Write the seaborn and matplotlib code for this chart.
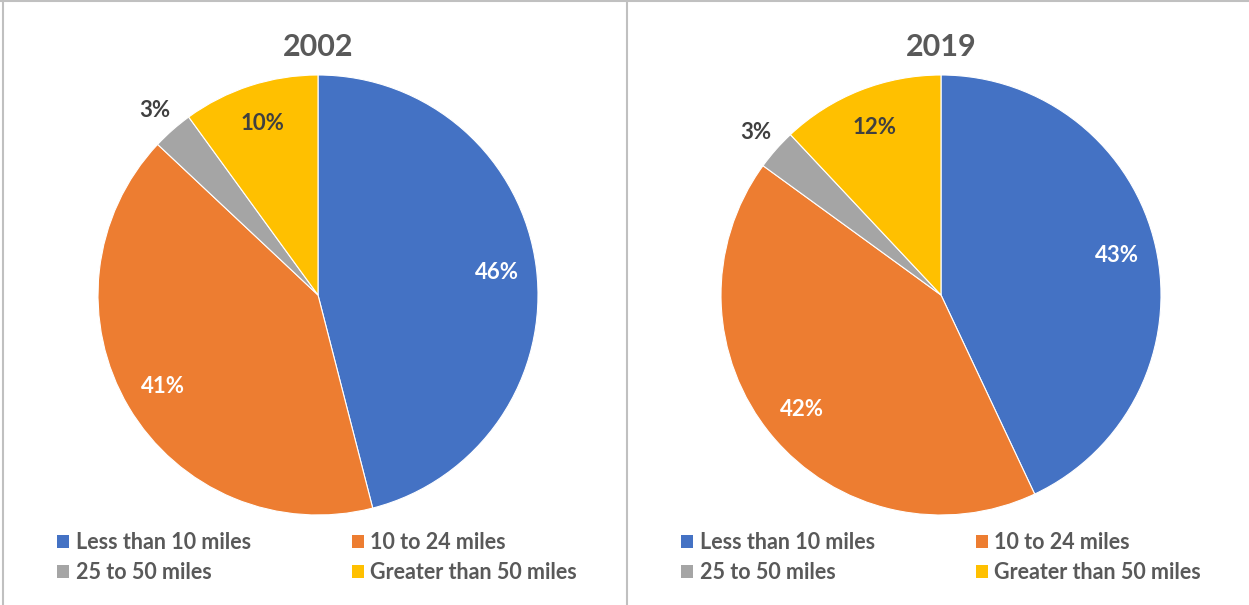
import matplotlib
matplotlib.use("Agg")
import matplotlib.pyplot as plt
from matplotlib.lines import Line2D
from matplotlib.patches import Patch
import numpy as np
import seaborn as sns

categories = ["Less than 10 miles", "10 to 24 miles", "25 to 50 miles", "Greater than 50 miles"]
years = ["2002", "2019"]
values_2002 = [46, 41, 3, 10]
values_2019 = [43, 42, 3, 12]
series = [values_2002, values_2019]

sns.set_theme(style="white")
plt.rcParams['font.family'] = ['Lato', 'DejaVu Sans']

colors = sns.color_palette(["#4472C4", "#ED7D31", "#A5A5A5", "#FFC000"])
label_colors = ["white", "white", "#404040", "#404040"]
text_gray = "#595959"
border = "#C0C0C0"

W, H = 1249, 605
fig = plt.figure(figsize=(W / 100, H / 100), dpi=100)
fig.patch.set_facecolor("white")

# panel borders
fig.add_artist(Line2D([0, 1], [1 - 1 / H, 1 - 1 / H], color=border, lw=1.5, transform=fig.transFigure))
fig.add_artist(Line2D([3 / W, 3 / W], [0, 1], color=border, lw=1.5, transform=fig.transFigure))
fig.add_artist(Line2D([627 / W, 627 / W], [0, 1], color=border, lw=1.5, transform=fig.transFigure))

centers = [(318, 295), (941, 295)]
radius = 220
legend_x = [57, 681]

for i, (vals, year) in enumerate(zip(series, years)):
    cx, cy = centers[i]
    ax = fig.add_axes([(cx - radius) / W, (H - cy - radius) / H, 2 * radius / W, 2 * radius / H])
    wedges, texts, autotexts = ax.pie(
        vals, colors=colors, startangle=90, counterclock=False,
        autopct="%1.0f%%", pctdistance=0.82,
        wedgeprops=dict(edgecolor="white", linewidth=0.8),
        textprops=dict(fontsize=16, fontweight="bold"),
    )
    for w, t, c in zip(wedges, autotexts, label_colors):
        t.set_color(c)
        span = abs(w.theta2 - w.theta1)
        if span < 20:
            mid = np.deg2rad((w.theta1 + w.theta2) / 2)
            t.set_position((1.12 * np.cos(mid), 1.12 * np.sin(mid)))
    ax.set_xlim(-1, 1)
    ax.set_ylim(-1, 1)
    ax.axis("off")

    fig.text(cx / W, 1 - 47 / H, year, ha="center", va="center",
             fontsize=22, fontweight="bold", color=text_gray)

    order = [0, 2, 1, 3]
    handles = [Patch(facecolor=colors[k], edgecolor="none") for k in order]
    labels = [categories[k] for k in order]
    leg = fig.legend(handles, labels, ncol=2, frameon=False,
                     loc="upper left", bbox_to_anchor=(legend_x[i] / W, 1 - 532 / H),
                     fontsize=15.5, handlelength=0.56, handleheight=0.56,
                     handletextpad=0.3, columnspacing=4.7, labelspacing=0.41,
                     borderaxespad=0, borderpad=0)
    for t in leg.get_texts():
        t.set_color(text_gray)
        t.set_fontweight("bold")

fig.savefig("out.png", dpi=100, facecolor="white")
